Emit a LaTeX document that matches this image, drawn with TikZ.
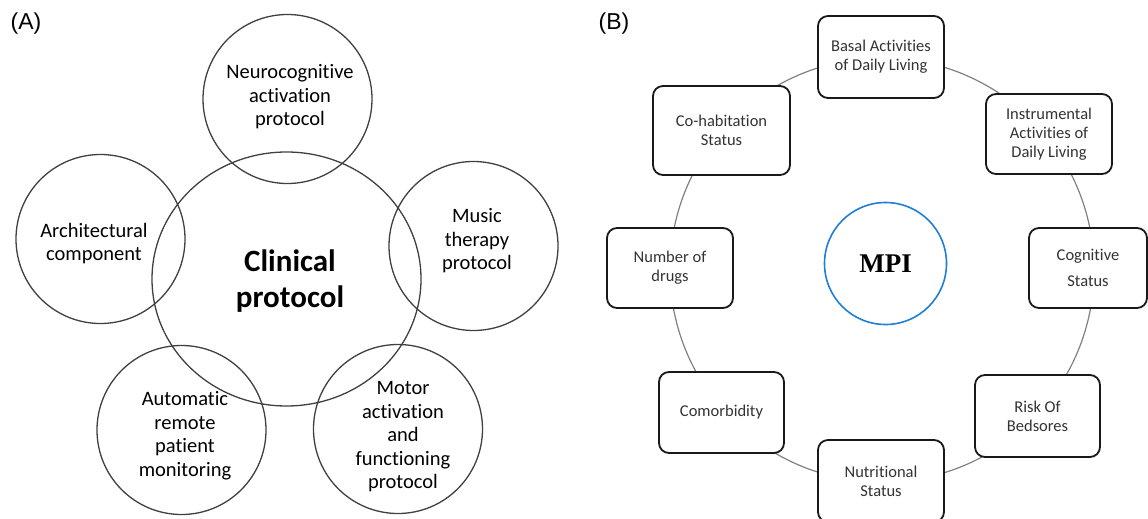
\documentclass[tikz,border=0pt]{standalone}
\usepackage{fontspec}
\setmainfont{Carlito}[Ligatures=NoCommon]
\newfontfamily\panelfont{Liberation Sans}
\newfontfamily\mpifont{Liberation Serif}
\usetikzlibrary{shapes.geometric,positioning,calc}

\begin{document}
\begin{tikzpicture}[x=1pt,y=-1pt,
    bubble/.style={circle,draw=black!75,line width=1.3pt,minimum size=169pt,inner sep=0pt},
    bubbletext/.style={align=center,inner sep=0pt,font=\fontsize{20.5}{23.5}\selectfont},
    item/.style={draw=black!90,line width=1.8pt,rounded corners=10pt,fill=white,inner sep=0pt,
      align=center,text=black!80,font=\fontsize{16.5}{19}\selectfont},
    ring/.style={draw=black!50,line width=1.2pt},
    tag/.style={font=\panelfont\fontsize{23}{26}\selectfont}]
  \useasboundingbox (0,0) rectangle (1148,519);

  % (A) clinical protocol
  \node[tag] (tagA) at (26,24) {(A)};
  \node[ellipse,draw=black!75,line width=1.3pt,minimum width=269pt,minimum height=254pt] (clin) at (286.5,279) {};
  \node[align=center,font=\bfseries\fontsize{31}{36}\selectfont] (clintext) at ($(clin)+(3.5,2)$) {Clinical\\protocol};
  \node[bubble] (neuro) at (287.5,99) {};
  \node[bubbletext] (neurotext) at ($(neuro)+(2.5,-2)$) {Neurocognitive\\activation\\protocol};
  \node[bubble] (arch) at (100.5,239) {};
  \node[bubbletext] (archtext) at ($(arch)+(-6.5,4.5)$) {Architectural\\component};
  \node[bubble] (music) at (473.5,246) {};
  \node[bubbletext] (musictext) at ($(music)+(3.5,-5)$) {Music\\therapy\\protocol};
  \node[bubble] (auto) at (181.5,430) {};
  \node[bubbletext] (autotext) at ($(auto)+(3.5,5.5)$) {Automatic\\remote\\patient\\monitoring};
  \node[bubble] (motor) at (398,429) {};
  \node[bubbletext] (motortext) at ($(motor)+(5,8)$) {Motor\\activation\\and\\functioning\\protocol};

  % (B) MPI domains
  \node[tag] (tagB) at (614,24) {(B)};
  \coordinate (hub) at (882,270);
  \draw[ring] (hub) circle[radius=212];
  \node[circle,draw={rgb,255:red,31;green,126;blue,214},line width=1.6pt,minimum size=122pt,
    font=\mpifont\bfseries\fontsize{27}{30}\selectfont] (mpi) at (885.5,263.5) {MPI};
  \node[item,minimum width=126pt,minimum height=82pt] (basal) at (881,57) {Basal Activities\\of Daily Living};
  \node[item,minimum width=126pt,minimum height=80pt] (iadl) at (1049,134) {Instrumental\\Activities of\\Daily Living};
  \node[item,minimum width=118pt,minimum height=80pt,font=\fontsize{16.5}{26}\selectfont] (cogn) at (1088,268) {Cognitive\\Status};
  \node[item,minimum width=125pt,minimum height=82pt] (sores) at (1037.5,416) {Risk Of\\Bedsores};
  \node[item,minimum width=126pt,minimum height=82pt] (nutri) at (881,481) {Nutritional\\Status};
  \node[item,minimum width=125pt,minimum height=81pt] (comorb) at (721.5,412.5) {Comorbidity};
  \node[item,minimum width=126pt,minimum height=80pt] (drugs) at (670,268) {Number of\\drugs};
  \node[item,minimum width=137pt,minimum height=89pt] (cohab) at (721.5,130.5) {Co-habitation\\Status};
\end{tikzpicture}
\end{document}
